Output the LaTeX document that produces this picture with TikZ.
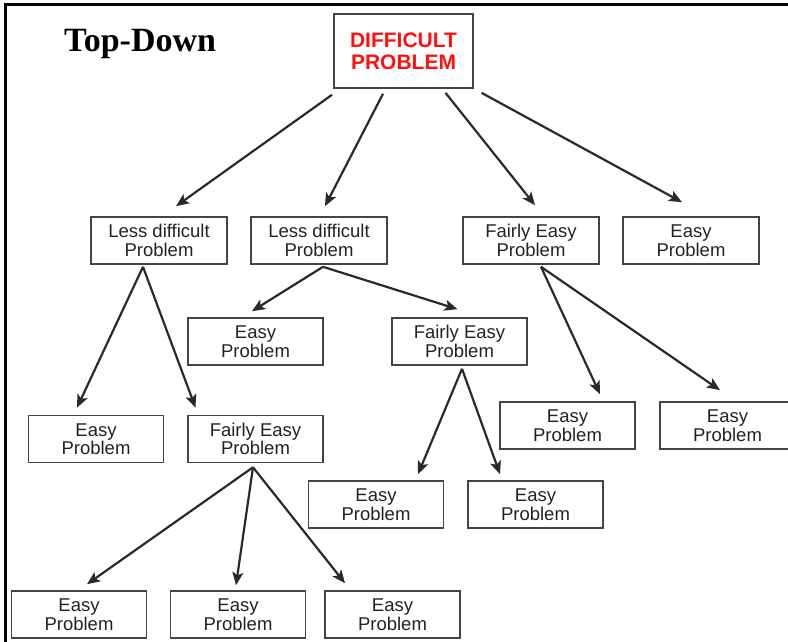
\documentclass[tikz,border=0pt]{standalone}
\usepackage{fontspec}
\setmainfont{Liberation Sans}
\newfontfamily\titlefont{Liberation Serif}
\usetikzlibrary{arrows.meta,calc}
\definecolor{boxgray}{HTML}{444444}
\definecolor{txtgray}{HTML}{222222}
\definecolor{arrgray}{HTML}{2A2A2A}
\definecolor{hardred}{HTML}{FF1010}
\begin{document}
\begin{tikzpicture}[x=1pt,y=-1pt,
  probbox/.style={draw=boxgray, line width=1.6pt, minimum width=135pt,
    minimum height=47pt, inner sep=0pt, align=center, text=txtgray,
    font=\fontsize{18.5}{18.5}\selectfont},
  rootbox/.style={probbox, minimum width=139pt, minimum height=74pt,
    text=hardred, font=\fontsize{21}{22}\selectfont\bfseries},
  link/.style={draw=arrgray, line width=2.2pt,
    -{Stealth[length=13pt,width=11pt,inset=3pt]}}]
\useasboundingbox (0,0) rectangle (788,642);

% frame on the left and top edges
\draw[line width=3pt, black] (5,642) -- (5,5) -- (790,5);

% heading
\node[anchor=base west, inner sep=0pt, font=\titlefont\bfseries\fontsize{34}{34}\selectfont]
  (title) at (64,52) {Top-Down};

% root
\node[rootbox] (root) at (403.5,51) {DIFFICULT\\PROBLEM};

% first level
\node[probbox, minimum width=136pt] (A) at (159,240.5) {Less difficult\\Problem};
\node[probbox, minimum width=136pt] (B) at (319,240.5) {Less difficult\\Problem};
\node[probbox, minimum width=136pt] (C) at (531,240.5) {Fairly Easy\\Problem};
\node[probbox, minimum width=136pt] (D) at (691,240.5) {Easy\\Problem};

% second level
\node[probbox] (B1) at (255.5,341.5) {Easy\\Problem};
\node[probbox] (B2) at (459.5,341.5) {Fairly Easy\\Problem};
\node[probbox] (A1) at (96,439) {Easy\\Problem};
\node[probbox] (A2) at (255.5,439) {Fairly Easy\\Problem};
\node[probbox] (C1) at (567.5,425.5) {Easy\\Problem};
\node[probbox] (C2) at (727.5,425.5) {Easy\\Problem};

% third level
\node[probbox] (B2a) at (376,504.5) {Easy\\Problem};
\node[probbox] (B2b) at (535.5,504.5) {Easy\\Problem};
\node[probbox] (A2a) at (79,614.5) {Easy\\Problem};
\node[probbox] (A2b) at (238,614.5) {Easy\\Problem};
\node[probbox] (A2c) at (392.5,614.5) {Easy\\Problem};

% connectors from the root
\draw[link] ($(root.south)+(-71.5,6)$) -- ($(A.north)+(17,-10)$);
\draw[link] ($(root.south)+(-20.5,5)$) -- ($(B.north)+(6,-10)$);
\draw[link] ($(root.south)+(42,4)$) -- ($(C.north)+(4,-11)$);
\draw[link] ($(root.south)+(78,4)$) -- ($(D.north)+(-9,-14)$);

% connectors from the first level
\draw[link] ($(A.south)+(-16,2)$) -- ($(A1.north)+(-19,-7)$);
\draw[link] ($(A.south)+(-16,2)$) -- ($(A2.north)+(-60,-7)$);
\draw[link] ($(B.south)+(4,2)$) -- ($(B1.north)+(-3.5,-6)$);
\draw[link] ($(B.south)+(4,2)$) -- ($(B2.north)+(-2,-8)$);
\draw[link] ($(C.south)+(10,2)$) -- ($(C1.north)+(32.5,-7)$);
\draw[link] ($(C.south)+(10,2)$) -- ($(C2.north)+(-7.5,-11)$);

% connectors from the second level
\draw[link] ($(B2.south)+(2.5,3)$) -- ($(B2a.north)+(42,-6)$);
\draw[link] ($(B2.south)+(2.5,3)$) -- ($(B2b.north)+(-35.5,-6)$);
\draw[link] ($(A2.south)+(-2.5,4)$) -- ($(A2a.north)+(8,-6)$);
\draw[link] ($(A2.south)+(-2.5,4)$) -- ($(A2b.north)+(-2,-5)$);
\draw[link] ($(A2.south)+(-2.5,4)$) -- ($(A2c.north)+(-47.5,-7)$);
\end{tikzpicture}
\end{document}
